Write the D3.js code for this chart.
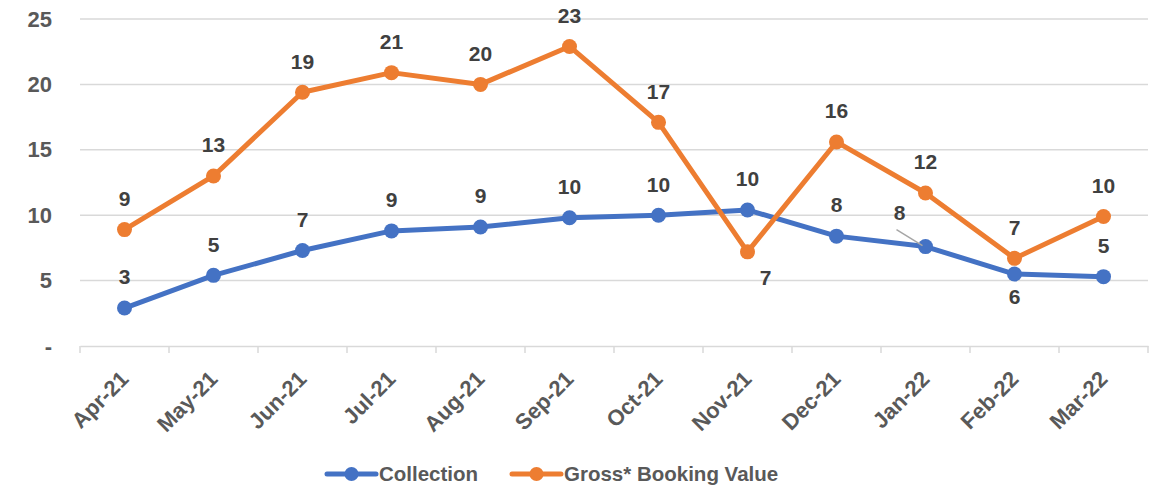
<!DOCTYPE html>
<html>
<head>
<meta charset="utf-8">
<script src="https://cdn.jsdelivr.net/npm/d3@7"></script>
<style>
  body { margin: 0; background: #fff; }
  svg { display: block; font-family: "Liberation Sans", Arial, sans-serif; font-weight: bold; }
</style>
</head>
<body>
<div id="chart"></div>
<script>
const months = ["Apr-21", "May-21", "Jun-21", "Jul-21", "Aug-21", "Sep-21",
                "Oct-21", "Nov-21", "Dec-21", "Jan-22", "Feb-22", "Mar-22"];
const collection = [2.9, 5.4, 7.3, 8.8, 9.1, 9.8, 10.0, 10.4, 8.4, 7.6, 5.5, 5.3];
const grossBooking = [8.9, 13.0, 19.4, 20.9, 20.0, 22.9, 17.1, 7.2, 15.6, 11.7, 6.7, 9.9];
const yTicks = [0, 5, 10, 15, 20, 25];

const width = 1153, height = 487;
const margin = { top: 19, right: 5, bottom: 141, left: 80 };
const innerW = width - margin.left - margin.right;
const innerH = height - margin.top - margin.bottom;

const svg = d3.select("#chart")
    .append("svg")
    .attr("width", width)
    .attr("height", height);

const g = svg.append("g")
    .attr("transform", `translate(${margin.left},${margin.top})`);

const x = d3.scaleBand()
    .domain(months)
    .range([0, innerW]);

const y = d3.scaleLinear()
    .domain([0, 25])
    .range([innerH, 0]);

// gridlines
g.selectAll("line.grid")
    .data(yTicks.filter(d => d > 0))
    .enter()
    .append("line")
    .attr("x1", 0)
    .attr("x2", innerW)
    .attr("y1", d => y(d))
    .attr("y2", d => y(d))
    .attr("stroke", "#d9d9d9")
    .attr("stroke-width", 1.5);

// y axis labels
const yAxis = g.append("g")
    .call(d3.axisLeft(y).tickValues(yTicks).tickSize(0).tickPadding(28)
        .tickFormat(d => d === 0 ? "-" : d));
yAxis.select(".domain").remove();
yAxis.selectAll("text")
    .attr("fill", "#595959")
    .style("font-size", "22px")
    .style("font-weight", "bold")
    .style("font-family", "Liberation Sans, Arial, sans-serif");

// x axis
const xAxis = g.append("g")
    .attr("transform", `translate(0,${innerH})`)
    .call(d3.axisBottom(x).tickSize(0));
xAxis.select(".domain").attr("stroke", "#d9d9d9").attr("stroke-width", 1.5);
xAxis.selectAll("text")
    .attr("fill", "#595959")
    .style("font-size", "22px")
    .style("font-weight", "bold")
    .style("font-family", "Liberation Sans, Arial, sans-serif")
    .attr("text-anchor", "end")
    .attr("x", 0)
    .attr("y", 0)
    .attr("dy", "0.35em")
    .attr("transform", "translate(0,29) rotate(-45)");

// band boundary ticks
g.selectAll("line.xtick")
    .data(d3.range(months.length + 1))
    .enter()
    .append("line")
    .attr("x1", i => i * x.bandwidth())
    .attr("x2", i => i * x.bandwidth())
    .attr("y1", innerH)
    .attr("y2", innerH + 7)
    .attr("stroke", "#d9d9d9")
    .attr("stroke-width", 1.5);

const cx = (d, i) => x(months[i]) + x.bandwidth() / 2;

const series = [
    { name: "Collection", values: collection, color: "#4472c4" },
    { name: "Gross* Booking Value", values: grossBooking, color: "#ed7d31" }
];

const line = d3.line()
    .x(cx)
    .y(d => y(d));

series.forEach(s => {
    g.append("path")
        .datum(s.values)
        .attr("fill", "none")
        .attr("stroke", s.color)
        .attr("stroke-width", 5)
        .attr("stroke-linejoin", "round")
        .attr("d", line);

    g.selectAll(null)
        .data(s.values)
        .enter()
        .append("circle")
        .attr("cx", cx)
        .attr("cy", d => y(d))
        .attr("r", 7.5)
        .attr("fill", s.color);
});

// data labels (rounded); default is centred above the point, a few are moved
const labelShift = {
    "Collection": { 9: [-26, -34], 10: [0, 23] },
    "Gross* Booking Value": { 7: [18, 26] }
};

// leader line for Jan-22 collection label
const jan = months.indexOf("Jan-22");
g.append("line")
    .attr("x1", cx(0, jan) - 29)
    .attr("y1", y(collection[jan]) - 17)
    .attr("x2", cx(0, jan) - 3)
    .attr("y2", y(collection[jan]) - 1)
    .attr("stroke", "#a6a6a6")
    .attr("stroke-width", 1.5);

series.forEach(s => {
    const shift = i => labelShift[s.name][i] || [0, -31];
    g.selectAll(null)
        .data(s.values)
        .enter()
        .append("text")
        .attr("x", (d, i) => cx(d, i) + shift(i)[0])
        .attr("y", (d, i) => y(d) + shift(i)[1])
        .attr("dy", "0.35em")
        .attr("text-anchor", "middle")
        .attr("fill", "#404040")
        .style("font-size", "21px")
        .text(d => Math.round(d));
});

// legend
const legend = svg.append("g")
    .attr("transform", `translate(0,474)`);
const legendX = [327, 512];
series.forEach((s, i) => {
    const lg = legend.append("g").attr("transform", `translate(${legendX[i]},0)`);
    lg.append("line")
        .attr("x1", 0).attr("x2", 49)
        .attr("y1", 0).attr("y2", 0)
        .attr("stroke", s.color)
        .attr("stroke-width", 5)
        .attr("stroke-linecap", "round");
    lg.append("circle")
        .attr("cx", 24.5).attr("cy", 0).attr("r", 7)
        .attr("fill", s.color);
    lg.append("text")
        .attr("x", 52)
        .attr("dy", "0.36em")
        .attr("fill", "#595959")
        .style("font-size", "20.5px")
        .text(s.name);
});
</script>
</body>
</html>
